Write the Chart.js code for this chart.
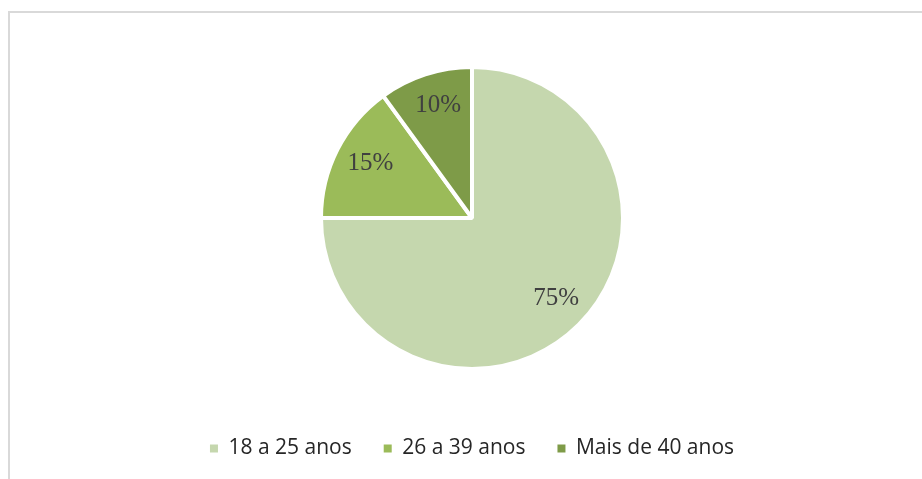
<!DOCTYPE html>
<html>
<head>
<meta charset="utf-8">
<script src="https://cdn.jsdelivr.net/npm/chart.js@4.4.1/dist/chart.umd.min.js"></script>
<style>
  html, body { margin: 0; padding: 0; background: #ffffff; }
  #frame { position: absolute; left: 8px; top: 11px; width: 930px; height: 480px;
           border-top: 2px solid #d9d9d9; border-left: 2px solid #d9d9d9; }
  #wrap { position: absolute; left: 0; top: 0; width: 922px; height: 479px; }
</style>
</head>
<body>
<div id="frame"></div>
<div id="wrap"><canvas id="c" width="922" height="479"></canvas></div>
<script>
const categories = ['18 a 25 anos', '26 a 39 anos', 'Mais de 40 anos'];
const shares = [75, 15, 10];
const sliceColors = ['#c5d7ae', '#9bbb59', '#7e9b48'];

const pctLabels = {
  id: 'pctLabels',
  afterDatasetsDraw(chart) {
    const ctx = chart.ctx;
    const meta = chart.getDatasetMeta(0);
    ctx.save();
    ctx.font = '25px "Liberation Serif", serif';
    ctx.fillStyle = '#404040';
    ctx.textAlign = 'center';
    ctx.textBaseline = 'middle';
    meta.data.forEach((arc, i) => {
      const p = arc.getProps(['x', 'y', 'startAngle', 'endAngle', 'outerRadius'], true);
      const mid = (p.startAngle + p.endAngle) / 2;
      const r = p.outerRadius * 0.77;
      ctx.fillText(shares[i] + '%', p.x + Math.cos(mid) * r + 2, p.y + Math.sin(mid) * r - 2);
    });
    ctx.restore();
  }
};

new Chart(document.getElementById('c'), {
  type: 'pie',
  data: {
    labels: categories,
    datasets: [{
      data: shares,
      backgroundColor: sliceColors,
      borderColor: '#ffffff',
      borderWidth: 4,
      hoverOffset: 0,
      radius: 151
    }]
  },
  options: {
    responsive: false,
    animation: false,
    layout: { padding: { top: 30, left: 22, right: 0, bottom: 10 } },
    plugins: {
      tooltip: { enabled: false },
      legend: {
        position: 'bottom',
        labels: {
          boxWidth: 8,
          boxHeight: 8,
          padding: 32,
          color: '#262626',
          font: { family: '"Open Sans", sans-serif', size: 21 },
          generateLabels(chart) {
            return Chart.overrides.pie.plugins.legend.labels.generateLabels(chart)
              .map(item => Object.assign(item, { lineWidth: 0, strokeStyle: 'rgba(0,0,0,0)' }));
          }
        }
      }
    }
  },
  plugins: [pctLabels]
});
</script>
</body>
</html>
